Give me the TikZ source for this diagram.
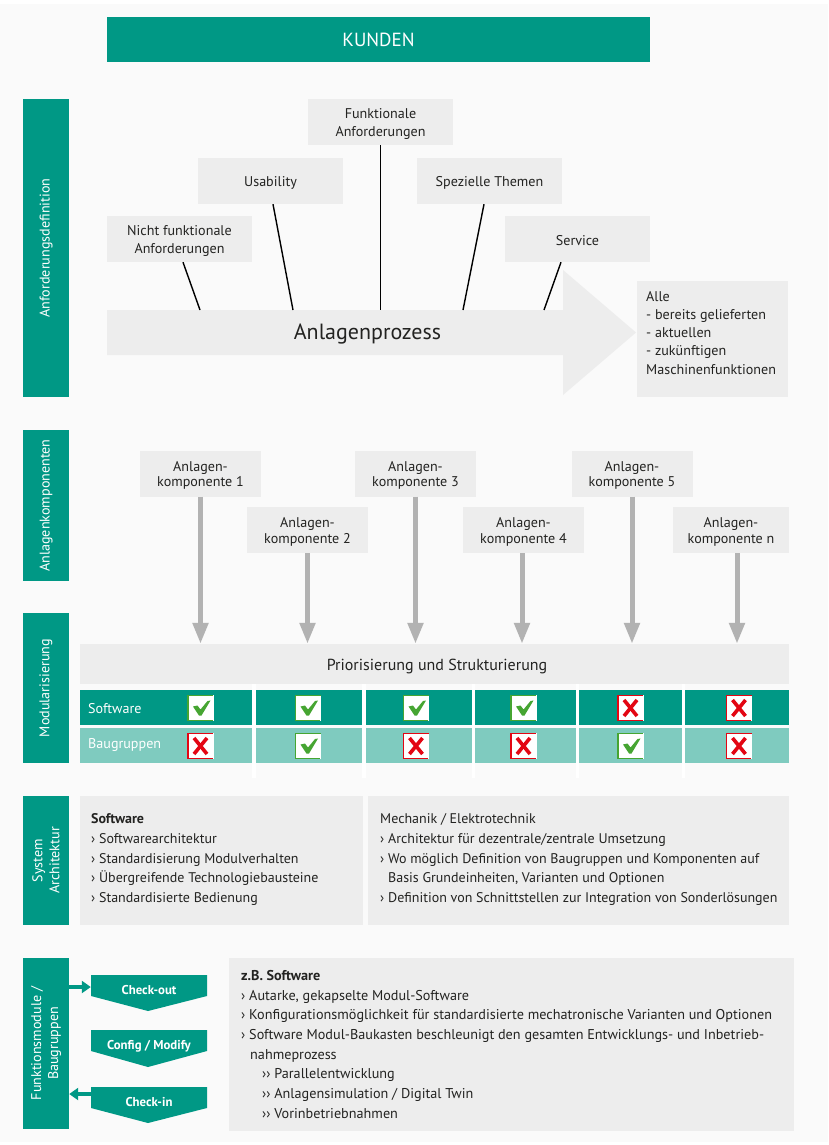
\documentclass[tikz,border=0pt]{standalone}
\usepackage{fontspec}
\setmainfont{PT Sans}
\usetikzlibrary{arrows.meta}
\definecolor{kteal}{RGB}{0,152,133}
\definecolor{klight}{RGB}{127,203,191}
\definecolor{kgray}{RGB}{237,237,237}
\definecolor{kback}{RGB}{250,250,250}
\definecolor{karrow}{RGB}{178,178,178}
\definecolor{kink}{RGB}{35,35,33}
\definecolor{kgreen}{RGB}{70,165,50}
\definecolor{kred}{RGB}{227,6,19}
\tikzset{
  every node/.style={inner sep=0pt, text=kink, font=\fontsize{14.1}{18}\selectfont},
  sidebar/.style={fill=kteal, text=white, rotate=90, minimum height=46pt, align=center, font=\fontsize{14.1}{17}\selectfont},
  reqbox/.style={fill=kgray, minimum width=145pt, minimum height=46pt, align=center, text height=14pt},
  tworeq/.style={reqbox, text height=32pt},
  compbox/.style={fill=kgray, minimum width=121pt, minimum height=46pt, align=center, font=\fontsize{14.1}{15.5}\selectfont, text height=29.5pt},
  listtext/.style={anchor=north west, align=left, font=\fontsize{14}{19.7}\selectfont},
  tealcell/.style={fill=kteal, minimum height=35pt},
  lightcell/.style={fill=klight, minimum height=35pt},
  chevtext/.style={minimum width=116pt, text=white, font=\bfseries\fontsize{12.8}{15}\selectfont},
  reqline/.style={black, line width=1.4pt},
  comparrow/.style={karrow, line width=5pt, -{Triangle[width=15pt,length=21pt]}},
  tealarrow/.style={kteal, line width=4pt, -{Triangle[width=12pt,length=9pt]}},
  pics/okmark/.style={code={
    \fill[white] (-13,-13) rectangle (13,13);
    \draw[kgreen, line width=1.6pt] (12.5,-12.5) -- (-12.5,-12.5) -- (-12.5,12.5) -- (12,12.5);
    \fill[kgreen] (-7.5,-1.5) -- (-3,-2.5) -- (0,1.5) -- (7,-7) -- (10,-7.5) -- (1,7.5) -- (-1.5,7.5) -- cycle;
  }},
  pics/nomark/.style={code={
    \fill[white] (-13,-13) rectangle (13,13);
    \draw[kred, line width=1.6pt] (12.5,-12.5) -- (-12.5,-12.5) -- (-12.5,12.5) -- (12,12.5);
    \draw[kred, line width=3.6pt] (-6.5,-8) -- (6.5,8);
    \draw[kred, line width=3.6pt] (6.5,-8) -- (-6.5,8);
  }}
}
\begin{document}
\begin{tikzpicture}[x=1pt,y=-1pt]
  \useasboundingbox (0,0) rectangle (828,1145);
  \fill[white] (0,0) rectangle (828,1145);
  \fill[kback] (0,4) rectangle (828,1142);

  % kopf
  \node[fill=kteal, text=white, minimum width=543pt, minimum height=45pt, font=\fontsize{19}{20}\selectfont] (kunden) at (378.5,39.5) {KUNDEN};

  % seitenleisten
  \node[sidebar, minimum width=298pt] (anf) at (46,248) {Anforderungsdefinition};
  \node[sidebar, minimum width=151pt] (komp) at (46,505.5) {Anlagenkomponenten};
  \node[sidebar, minimum width=150pt] (modul) at (46,688) {Modularisierung};
  \node[sidebar, minimum width=129pt] (sys) at (46,860.5) {System\\Architektur};
  \node[sidebar, minimum width=171pt] (fkt) at (46,1043.5) {Funktionsmodule /\\Baugruppen};

  % anforderungen
  \node[tworeq] (funk) at (380.5,122) {Funktionale\\Anforderungen};
  \node[reqbox] (usab) at (270.5,181) {Usability};
  \node[reqbox] (spez) at (489.5,181) {Spezielle Themen};
  \node[tworeq] (nfunk) at (179.5,239) {Nicht funktionale\\Anforderungen};
  \node[reqbox] (serv) at (577.5,239) {Service};

  % prozesspfeil
  \fill[kgray] (107,310) -- (563,310) -- (563,270) -- (636,332.5) -- (563,395) -- (563,355) -- (107,355) -- cycle;
  \node[font=\fontsize{22}{24}\selectfont] (proz) at (367.5,334.5) {Anlagenprozess};
  \coordinate (p1) at (200,310);
  \coordinate (p2) at (293,310);
  \coordinate (p3) at (380.5,310);
  \coordinate (p4) at (463,310);
  \coordinate (p5) at (544,310);
  \draw[reqline] ([xshift=3.5pt]nfunk.south) -- (p1);
  \draw[reqline] ([xshift=2.5pt]usab.south) -- (p2);
  \draw[reqline] (funk.south) -- (p3);
  \draw[reqline] ([xshift=-5.5pt]spez.south) -- (p4);
  \draw[reqline] ([xshift=-16.5pt]serv.south) -- (p5);

  \fill[kgray] (637,281) rectangle (788,397);
  \node[listtext, font=\fontsize{14.1}{18.2}\selectfont] (alle) at (646,291) {Alle\\- bereits gelieferten\\- aktuellen\\- zukünftigen\\Maschinenfunktionen};

  % komponenten
  \node[compbox] (k1) at (200.5,473.5) {Anlagen-\\komponente 1};
  \node[compbox] (k2) at (307.5,530) {Anlagen-\\komponente 2};
  \node[compbox] (k3) at (415.5,473.5) {Anlagen-\\komponente 3};
  \node[compbox] (k4) at (523.5,530) {Anlagen-\\komponente 4};
  \node[compbox] (k5) at (632,473.5) {Anlagen-\\komponente 5};
  \node[compbox, minimum width=116pt] (kn) at (731,530) {Anlagen-\\komponente n};

  \node[fill=kgray, minimum width=709pt, minimum height=40pt, font=\fontsize{16}{18}\selectfont, text height=16pt] (prio) at (434.5,664) {\hspace*{5pt}Priorisierung und Strukturierung};

  \draw[comparrow] (k1.south) -- (k1.south |- prio.north);
  \draw[comparrow] (k2.south) -- (k2.south |- prio.north);
  \draw[comparrow] (k3.south) -- (k3.south |- prio.north);
  \draw[comparrow] ([xshift=-1.5pt]k4.south) -- ([xshift=-1.5pt]k4.south |- prio.north);
  \draw[comparrow] (k5.south) -- (k5.south |- prio.north);
  \draw[comparrow] ([xshift=6pt]kn.south) -- ([xshift=6pt]kn.south |- prio.north);

  % matrix
  \fill[white] (252,684) rectangle (256,778);
  \fill[white] (362,684) rectangle (366,778);
  \fill[white] (472,684) rectangle (475,778);
  \fill[white] (576,684) rectangle (579,778);
  \fill[white] (682,684) rectangle (685,778);
  \node[tealcell, minimum width=172pt] (s1) at (166,707.5) {};
  \node[tealcell, minimum width=106pt] (s2) at (309,707.5) {};
  \node[tealcell, minimum width=106pt] (s3) at (419,707.5) {};
  \node[tealcell, minimum width=101pt] (s4) at (525.5,707.5) {};
  \node[tealcell, minimum width=103pt] (s5) at (630.5,707.5) {};
  \node[tealcell, minimum width=104pt] (s6) at (737,707.5) {};
  \node[lightcell, minimum width=172pt] (b1) at (166,745) {};
  \node[lightcell, minimum width=106pt] (b2) at (309,745) {};
  \node[lightcell, minimum width=106pt] (b3) at (419,745) {};
  \node[lightcell, minimum width=101pt] (b4) at (525.5,745) {};
  \node[lightcell, minimum width=103pt] (b5) at (630.5,745) {};
  \node[lightcell, minimum width=104pt] (b6) at (737,745) {};
  \node[text=white, anchor=west] (slab) at (88,709) {Software};
  \node[text=white, anchor=west] (blab) at (88,745) {Baugruppen};
  \pic at (200.5,708) {okmark};
  \pic at (308,708) {okmark};
  \pic at (416,708) {okmark};
  \pic at (523.5,708) {okmark};
  \pic at (630.5,708) {nomark};
  \pic at (739,708) {nomark};
  \pic at (200.5,746) {nomark};
  \pic at (308,746) {okmark};
  \pic at (416,746) {nomark};
  \pic at (523.5,746) {nomark};
  \pic at (630.5,746) {okmark};
  \pic at (739,746) {nomark};

  % system architektur
  \fill[kgray] (80,796) rectangle (363,925);
  \fill[kgray] (368,796) rectangle (789,925);
  \node[listtext] (swtext) at (91,813.5) {\textbf{Software}\\› Softwarearchitektur\\› Standardisierung Modulverhalten\\› Übergreifende Technologiebausteine\\› Standardisierte Bedienung};
  \node[listtext] (metext) at (380,813.5) {Mechanik / Elektrotechnik\\› Architektur für dezentrale/zentrale Umsetzung\\› Wo möglich Definition von Baugruppen und Komponenten auf\\\hspace*{8pt}Basis Grundeinheiten, Varianten und Optionen\\› Definition von Schnittstellen zur Integration von Sonderlösungen};

  % funktionsmodule
  \fill[kteal] (91,975) -- (207,975) -- (207,996) -- (148,1011) -- (91,996) -- cycle;
  \fill[kteal] (91,1030) -- (207,1030) -- (207,1051) -- (148,1067) -- (91,1051) -- cycle;
  \fill[kteal] (91,1087) -- (207,1087) -- (207,1108) -- (148,1123) -- (91,1108) -- cycle;
  \node[chevtext] (out) at (149,990) {Check-out};
  \node[chevtext] (cfg) at (149,1046) {Config / Modify};
  \node[chevtext] (in) at (149,1102) {Check-in};
  \coordinate (outend) at (out.west |- 0,987);
  \coordinate (instart) at (in.west |- 0,1094);
  \draw[tealarrow] (fkt.south |- outend) -- (outend);
  \draw[tealarrow] (instart) -- (fkt.south |- instart);

  \fill[kgray] (229,958) rectangle (794,1131);
  \node[listtext, font=\fontsize{14.2}{19.7}\selectfont] (bsp) at (241,970) {\textbf{z.B. Software}\\› Autarke, gekapselte Modul-Software\\› Konfigurationsmöglichkeit für standardisierte mechatronische Varianten und Optionen\\› Software Modul-Baukasten beschleunigt den gesamten Entwicklungs- und Inbetrieb-\\\hspace*{9pt}nahmeprozess\\\hspace*{21pt}›› Parallelentwicklung\\\hspace*{21pt}›› Anlagensimulation / Digital Twin\\\hspace*{21pt}›› Vorinbetriebnahmen};
\end{tikzpicture}
\end{document}
